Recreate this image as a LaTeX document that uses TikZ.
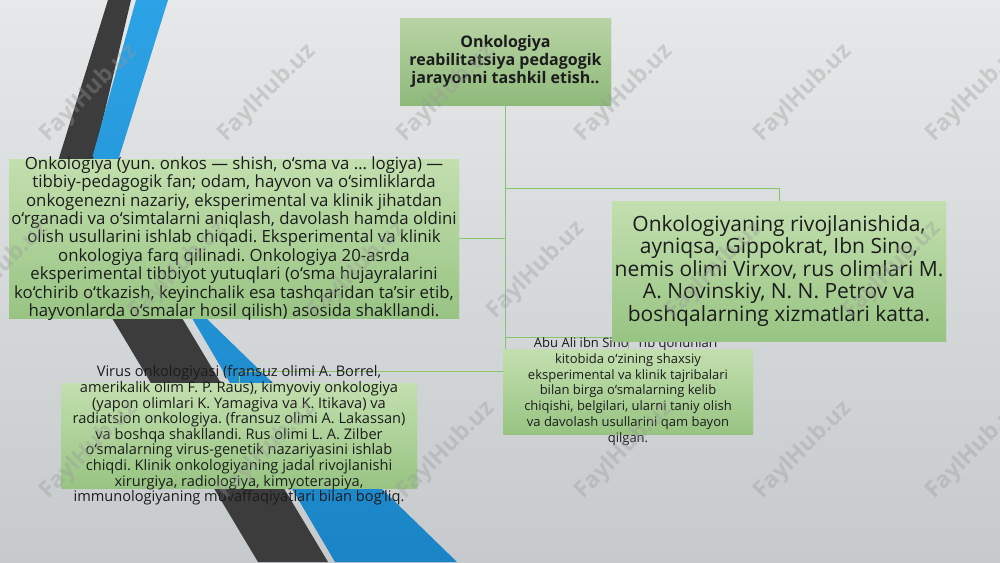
\documentclass[tikz,border=0pt]{standalone}
\usepackage{fontspec}
\setmainfont{Open Sans}
\frenchspacing
\definecolor{bgtop}{HTML}{E6E8E9}
\definecolor{bgmid}{HTML}{F2F3F3}
\definecolor{bgbot}{HTML}{C6CACC}
\definecolor{darkstripe}{HTML}{3C3C3C}
\definecolor{bluetop}{HTML}{2CA3E6}
\definecolor{bluebot}{HTML}{1A84C6}
\definecolor{gtop}{HTML}{C3DFAF}
\definecolor{gbot}{HTML}{98C483}
\definecolor{ttop}{HTML}{B8D4A4}
\definecolor{tbot}{HTML}{8FB97B}
\definecolor{connc}{HTML}{8CC46E}
\definecolor{txt}{HTML}{1C1C1C}
\definecolor{wmc}{HTML}{9A9A9A}
\tikzset{
  gbox/.style={inner sep=0pt, outer sep=0pt, draw=none, top color=gtop, bottom color=gbot},
  tbox/.style={inner sep=0pt, outer sep=0pt, draw=none, top color=ttop, bottom color=tbot},
  btext/.style={inner sep=0pt, align=center, text=txt},
  conn/.style={draw=connc, line width=0.9pt},
  wm/.style={rotate=45, text=wmc, opacity=0.36, font=\bfseries\fontsize{23}{23}\selectfont, inner sep=0pt}
}
\begin{document}
\begin{tikzpicture}[x=1pt,y=-1pt]
\useasboundingbox (0,0) rectangle (1000,562);
% background
\shade[top color=bgtop, middle color=bgmid, bottom color=bgbot] (0,0) rectangle (1000,562);
% stripes
\fill[darkstripe] (108,0) -- (131,0) -- (84,200) -- (182,318) -- (328,562) -- (258,562) -- (112,318) -- (46,200) -- cycle;
\shade[top color=bluetop, bottom color=bluebot] (136,0) -- (168,0) -- (112,180) -- (206,318) -- (457,562) -- (335,562) -- (192,318) -- (86,180) -- cycle;
% box anchors (named, empty)
\node[tbox, minimum width=211, minimum height=87] (title) at (505.5,61.5) {};
\node[gbox, minimum width=450, minimum height=159] (left) at (234,238.5) {};
\node[gbox, minimum width=250, minimum height=85] (abu) at (628,391.5) {};
\node[gbox, minimum width=356, minimum height=105] (virus) at (239,435.5) {};
\node[gbox, minimum width=334, minimum height=140] (right) at (779,271) {};
% connectors
\draw[conn] (title.south) |- (left.east);
\draw[conn] (title.south) -- ++(0,83) -| (right.north);
\draw[conn] (title.south) -- ++(0,232) -| (abu.north);
\draw[conn] (title.south) -- ++(0,266) -| (virus.north);
% boxes over connectors
\node[tbox, minimum width=211, minimum height=87] (titleb) at (title.center) {};
\node[gbox, minimum width=450, minimum height=159] (leftb) at (left.center) {};
\node[gbox, minimum width=250, minimum height=85] (abub) at (abu.center) {};
\node[gbox, minimum width=356, minimum height=105] (virusb) at (virus.center) {};
% texts
\node[btext, font=\bfseries\fontsize{16}{18.3}\selectfont] (titletxt) at (title.center) {Onkologiya\\reabilitatsiya pedagogik\\jarayonni tashkil etish..};
\node[btext, font=\fontsize{16.8}{18.4}\selectfont] (lefttxt) at (left.center) {Onkologiya (yun. onkos — shish, o‘sma va … logiya) —\\tibbiy-pedagogik fan; odam, hayvon va o‘simliklarda\\onkogenezni nazariy, eksperimental va klinik jihatdan\\o‘rganadi va o‘simtalarni aniqlash, davolash hamda oldini\\olish usullarini ishlab chiqadi. Eksperimental va klinik\\onkologiya farq qilinadi. Onkologiya 20-asrda\\eksperimental tibbiyot yutuqlari (o‘sma hujayralarini\\ko‘chirib o‘tkazish, keyinchalik esa tashqaridan ta’sir etib,\\hayvonlarda o‘smalar hosil qilish) asosida shakllandi.};
\node[btext, font=\fontsize{13}{15.8}\selectfont] (abutxt) at (abu.center) {Abu Ali ibn Sino “Tib qonunlari”\\kitobida o‘zining shaxsiy\\eksperimental va klinik tajribalari\\bilan birga o‘smalarning kelib\\chiqishi, belgilari, ularni taniy olish\\va davolash usullarini qam bayon\\qilgan.};
\node[btext, font=\fontsize{14.6}{15.6}\selectfont] (virustxt) at (virus.center) {Virus onkologiyasi (fransuz olimi A. Borrel,\\amerikalik olim F. P. Raus), kimyoviy onkologiya\\(yapon olimlari K. Yamagiva va K. Itikava) va\\radiatsion onkologiya. (fransuz olimi A. Lakassan)\\va boshqa shakllandi. Rus olimi L. A. Zilber\\o‘smalarning virus-genetik nazariyasini ishlab\\chiqdi. Klinik onkologiyaning jadal rivojlanishi\\xirurgiya, radiologiya, kimyoterapiya,\\immunologiyaning muvaffaqiyatlari bilan bog‘liq.};
% right box on top of the Abu text
\node[gbox, minimum width=334, minimum height=140] (rightb) at (right.center) {};
\node[btext, font=\fontsize{21}{22.5}\selectfont] (righttxt) at (right.center) {Onkologiyaning rivojlanishida,\\ayniqsa, Gippokrat, Ibn Sino,\\nemis olimi Virxov, rus olimlari M.\\A. Novinskiy, N. N. Petrov va\\boshqalarning xizmatlari katta.};
% watermarks
\foreach \wx/\wy [count=\i] in {89/93,267/93,446/93,624/93,803/93,975/93,
  0/270,178/270,357/270,536/270,714/270,892/270,
  89/450,267/450,446/450,624/450,803/450,975/450}{
  \node[wm] (wm\i) at (\wx,\wy) {FaylHub.uz};
}
\end{tikzpicture}
\end{document}
